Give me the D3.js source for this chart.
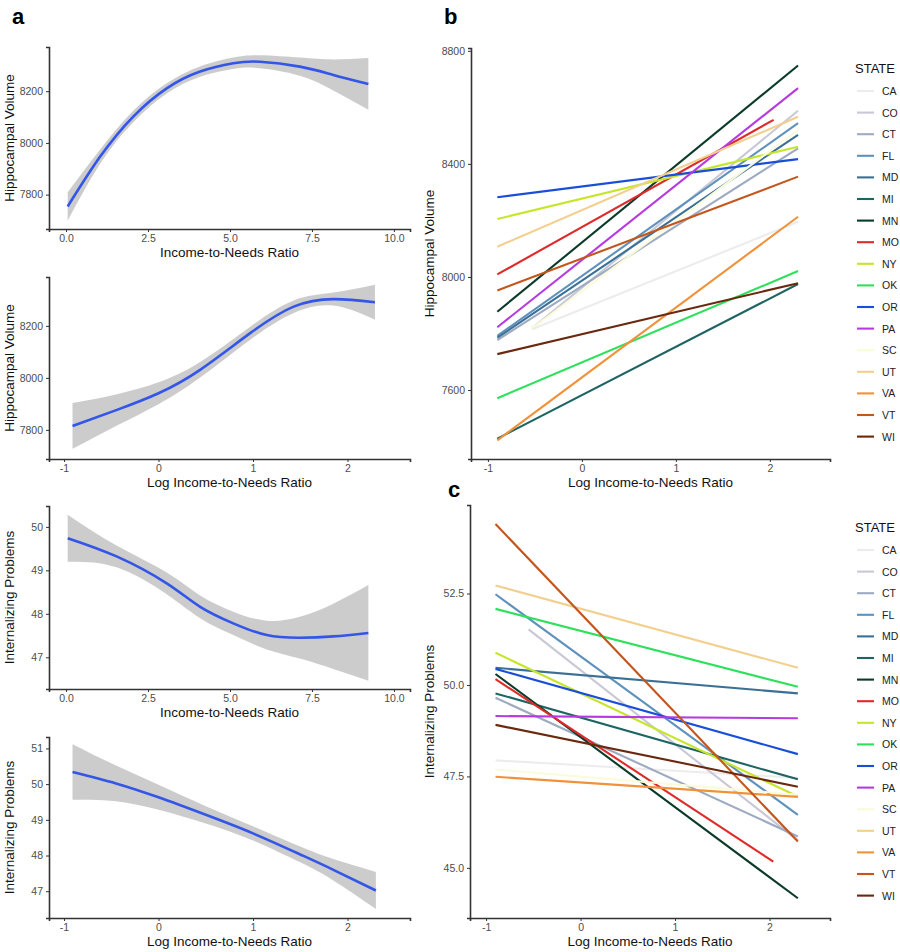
<!DOCTYPE html>
<html><head><meta charset="utf-8">
<script src="https://cdn.jsdelivr.net/npm/d3@7"></script>
<style>body{margin:0;background:#fff}svg{display:block}text{font-family:"Liberation Sans",Arial,sans-serif}</style>
</head><body><svg id="c" width="900" height="952"></svg>
<script>
// ---- Data ----
const states = ["CA","CO","CT","FL","MD","MI","MN","MO","NY","OK","OR","PA","SC","UT","VA","VT","WI"];
const stateColors = ["#ececec","#c8c8d6","#9eaac2","#5e92bc","#3b7096","#1d6462","#0b3a28","#df2a2a","#c6e62c","#2ee05c","#1a4ed8","#b53be0","#fbfbdc","#f3cf8e","#f0923c","#c4561c","#6a280e"];
// Panel b: [x0, y0, x1, y1] per state (Hippocampal Volume)
const hippoX0 = [-0.53,-0.53,-0.9,-0.9,-0.9,-0.9,-0.9,-0.9,-0.9,-0.9,-0.9,-0.9,-0.53,-0.9,-0.9,-0.9,-0.9];
const hippoX1 = [2.3,2.3,2.3,2.3,2.3,2.3,2.3,2.04,2.3,2.3,2.3,2.3,2.3,2.3,2.3,2.3,2.3];
const hippoStart = [7815,7818,7777,7792,7785,7428,7877,8009,8205,7571,8282,7822,7818,8107,7422,7952,7727];
const hippoEnd   = [8195,8588,8455,8544,8503,7975,8748,8556,8461,8021,8417,8668,8520,8567,8213,8355,7978];
// Panel c: Internalizing Problems
const intX0 = [-0.9,-0.55,-0.9,-0.9,-0.9,-0.9,-0.9,-0.9,-0.9,-0.9,-0.9,-0.9,-0.9,-0.9,-0.9,-0.9,-0.9];
const intX1 = [2.3,2.3,2.3,2.3,2.3,2.3,2.3,2.04,2.3,2.3,2.3,2.3,2.3,2.3,2.3,2.3,2.3];
const intStart = [47.94,51.52,49.65,52.48,50.47,49.77,50.30,50.16,50.88,52.08,50.44,49.15,47.69,52.72,47.49,54.40,48.91];
const intEnd   = [47.46,45.75,45.86,46.45,49.77,47.42,44.17,45.17,46.95,49.95,48.11,49.09,47.00,50.47,46.94,45.72,47.22];

// Panel a smooth fits: x, fit, band half-width
const a1X   = [0.05,1.04,2.05,3.07,4.09,5.1,5.91,7.13,8.15,9.22];
const a1Fit = [7754,7947,8102,8211,8276,8308,8314,8295,8263,8228];
const a1Se  = [55,28,22,20,20,22,25,35,60,100];
const a2X   = [-0.91,-0.44,0.0,0.44,0.97,1.43,1.85,2.29];
const a2Fit = [7815,7877,7941,8031,8172,8274,8303,8291];
const a2Se  = [88,60,42,30,25,24,25,67];
const a3X   = [0.05,1.54,3.07,4.09,5.1,6.12,7.13,8.15,9.22];
const a3Fit = [49.74,49.32,48.70,48.16,47.78,47.51,47.45,47.48,47.56];
const a3Se  = [0.54,0.25,0.25,0.26,0.27,0.33,0.48,0.75,1.1];
const a4X   = [-0.91,-0.45,0.0,0.5,1.0,1.5,1.85,2.3];
const a4Fit = [50.34,50.02,49.63,49.14,48.62,48.03,47.60,47.02];
const a4Se  = [0.78,0.5,0.35,0.24,0.2,0.22,0.3,0.52];

const incomeTicks = [0,2.5,5,7.5,10];
const logTicks = [-1,0,1,2];
const hippoTicksA = [7800,8000,8200];
const hippoTicksB = [7600,8000,8400,8800];
const intTicksA3 = [47,48,49,50];
const intTicksA4 = [47,48,49,50,51];
const intTicksC = [45,47.5,50,52.5];

// ---- Drawing ----
const svg = d3.select("#c");
const axisCol = "#333";

function panel(o){
  const g = svg.append("g");
  const x = d3.scaleLinear().domain(o.xd).range(o.xr);
  const y = d3.scaleLinear().domain(o.yd).range(o.yr);
  const xa = d3.axisBottom(x).tickValues(o.xt).tickSize(3).tickPadding(3).tickFormat(o.xf);
  const ya = d3.axisLeft(y).tickValues(o.yt).tickSize(3).tickPadding(3).tickFormat(o.yf);
  const gx = g.append("g").attr("transform",`translate(0,${o.yr[0]})`).call(xa);
  const gy = g.append("g").attr("transform",`translate(${o.xr[0]},0)`).call(ya);
  [gx,gy].forEach(a=>{
    a.select(".domain").attr("stroke",axisCol).attr("stroke-width",1.6);
    a.selectAll(".tick line").attr("stroke",axisCol).attr("stroke-width",1);
    a.selectAll(".tick text").attr("fill","#4d4d4d").style("font-size","10.5px");
  });
  g.append("text").attr("x",(o.xr[0]+o.xr[1])/2).attr("y",o.yr[0]+28)
   .attr("text-anchor","middle").style("font-size","13.5px").attr("fill","#111").text(o.xl);
  g.append("text").attr("transform",`translate(${o.ylx},${(o.yr[0]+o.yr[1])/2}) rotate(-90)`)
   .attr("text-anchor","middle").style("font-size","13.5px").attr("fill","#111").text(o.yl);
  return {g,x,y};
}

function smooth(p, X, F, S){
  const pts = X.map((d,i)=>({x:d,f:F[i],s:S[i]}));
  const area = d3.area().x(d=>p.x(d.x)).y0(d=>p.y(d.f-d.s)).y1(d=>p.y(d.f+d.s)).curve(d3.curveNatural);
  p.g.append("path").attr("d",area(pts)).attr("fill","#999").attr("fill-opacity",0.5);
  const line = d3.line().x(d=>p.x(d.x)).y(d=>p.y(d.f)).curve(d3.curveNatural);
  p.g.append("path").attr("d",line(pts)).attr("fill","none").attr("stroke","#3355e8").attr("stroke-width",2.6);
}

const fmt1 = d3.format(".1f"), fmt0 = d=>String(d);

const p1 = panel({xd:[-0.52,10.49],xr:[49,410],yd:[7667,8371],yr:[229,47],xt:incomeTicks,yt:hippoTicksA,xf:fmt1,yf:fmt0,xl:"Income-to-Needs Ratio",yl:"Hippocampal Volume",ylx:14});
smooth(p1,a1X,a1Fit,a1Se);
const p2 = panel({xd:[-1.159,2.661],xr:[49,410],yd:[7688,8388],yr:[459,277],xt:logTicks,yt:hippoTicksA,xf:fmt0,yf:fmt0,xl:"Log Income-to-Needs Ratio",yl:"Hippocampal Volume",ylx:14});
smooth(p2,a2X,a2Fit,a2Se);
const p3 = panel({xd:[-0.52,10.49],xr:[49,410],yd:[46.27,50.48],yr:[689,506],xt:incomeTicks,yt:intTicksA3,xf:fmt1,yf:fmt0,xl:"Income-to-Needs Ratio",yl:"Internalizing Problems",ylx:14});
smooth(p3,a3X,a3Fit,a3Se);
const p4 = panel({xd:[-1.159,2.661],xr:[49,410],yd:[46.25,51.32],yr:[918,737],xt:logTicks,yt:intTicksA4,xf:fmt0,yf:fmt0,xl:"Log Income-to-Needs Ratio",yl:"Internalizing Problems",ylx:14});
smooth(p4,a4X,a4Fit,a4Se);

const pb = panel({xd:[-1.18,2.64],xr:[471,830],yd:[7356,8810],yr:[459,48],xt:logTicks,yt:hippoTicksB,xf:fmt0,yf:fmt0,xl:"Log Income-to-Needs Ratio",yl:"Hippocampal Volume",ylx:434});
const pc = panel({xd:[-1.17,2.64],xr:[470,830],yd:[43.63,54.92],yr:[918,505],xt:logTicks,yt:intTicksC,xf:fmt0,yf:fmt1,xl:"Log Income-to-Needs Ratio",yl:"Internalizing Problems",ylx:434});

function stateLines(p, X0, X1, Y0, Y1){
  states.forEach((s,i)=>{
    p.g.append("line").attr("x1",p.x(X0[i])).attr("y1",p.y(Y0[i]))
      .attr("x2",p.x(X1[i])).attr("y2",p.y(Y1[i]))
      .attr("stroke",stateColors[i]).attr("stroke-width",2.1);
  });
}
stateLines(pb,hippoX0,hippoX1,hippoStart,hippoEnd);
stateLines(pc,intX0,intX1,intStart,intEnd);

function legend(top){
  const g = svg.append("g");
  g.append("text").attr("x",855).attr("y",top+5).style("font-size","13px").attr("fill","#111").text("STATE");
  states.forEach((s,i)=>{
    const yy = top + 23 + i*21.6;
    g.append("line").attr("x1",857).attr("x2",874).attr("y1",yy).attr("y2",yy).attr("stroke",stateColors[i]).attr("stroke-width",2.1);
    g.append("text").attr("x",882).attr("y",yy+4).style("font-size","10.5px").attr("fill","#222").text(s);
  });
}
legend(68);
legend(527);

[["a",12,24],["b",444,24],["c",448,497]].forEach(([t,x,y])=>{
  svg.append("text").attr("x",x).attr("y",y).style("font-size","22px").style("font-weight","bold").attr("fill","#000").text(t);
});
</script></body></html>
